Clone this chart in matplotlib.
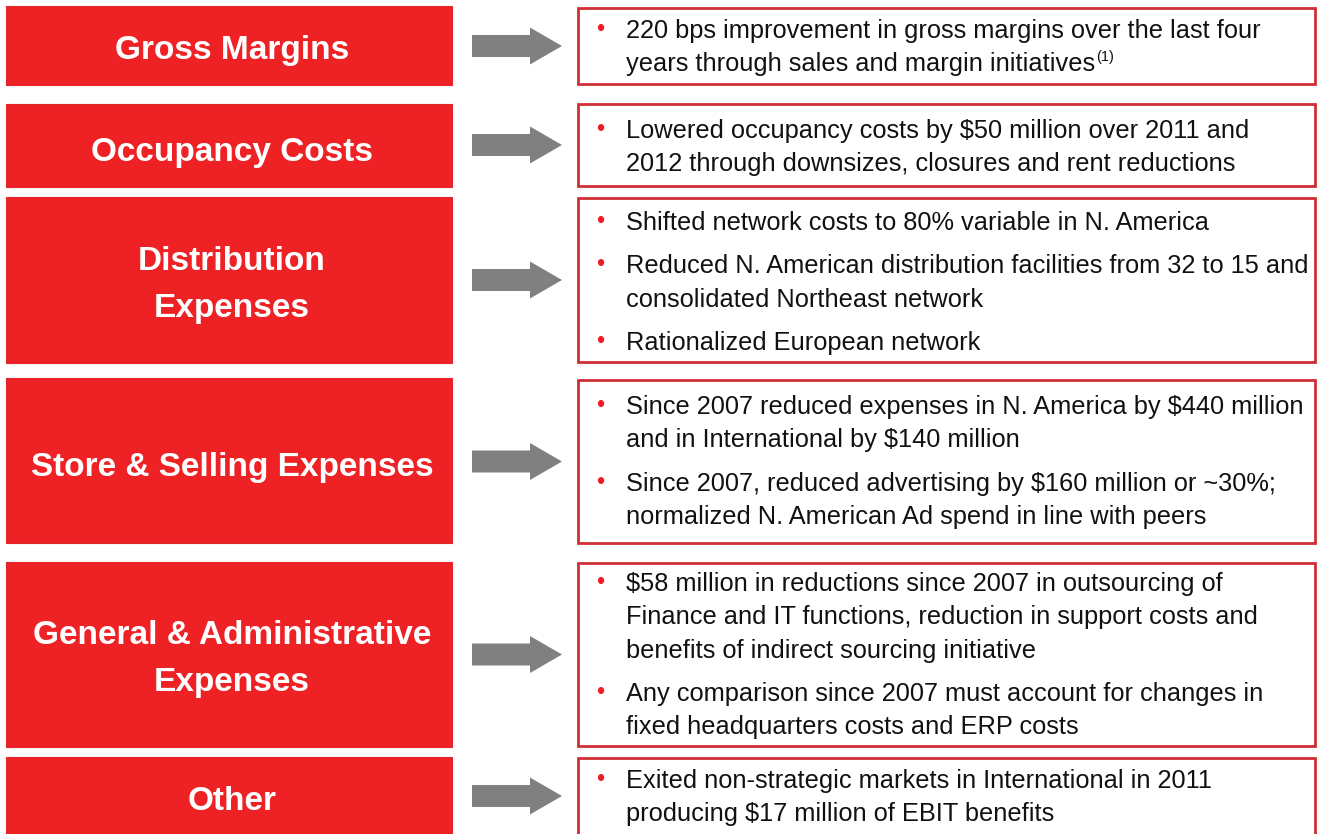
import matplotlib
matplotlib.use("Agg")
import matplotlib.pyplot as plt
from matplotlib.patches import Rectangle, FancyArrow

# ---- content ----
categories = [
    "Gross Margins",
    "Occupancy Costs",
    "Distribution\nExpenses",
    "Store & Selling Expenses",
    "General & Administrative\nExpenses",
    "Other",
]

bullets = [
    [["220 bps improvement in gross margins over the last four",
      "years through sales and margin initiatives"]],
    [["Lowered occupancy costs by $50 million over 2011 and",
      "2012 through downsizes, closures and rent reductions"]],
    [["Shifted network costs to 80% variable in N. America"],
     ["Reduced N. American distribution facilities from 32 to 15 and",
      "consolidated Northeast network"],
     ["Rationalized European network"]],
    [["Since 2007 reduced expenses in N. America by $440 million",
      "and in International by $140 million"],
     ["Since 2007, reduced advertising by $160 million or ~30%;",
      "normalized N. American Ad spend in line with peers"]],
    [["$58 million in reductions since 2007 in outsourcing of",
      "Finance and IT functions, reduction in support costs and",
      "benefits of indirect sourcing initiative"],
     ["Any comparison since 2007 must account for changes in",
      "fixed headquarters costs and ERP costs"]],
    [["Exited non-strategic markets in International in 2011",
      "producing $17 million of EBIT benefits"]],
]
footnote_mark = "(1)"

# ---- layout (pixels) ----
W, H = 1319, 834
left_rows = [(6, 85), (104, 187), (197, 363), (378, 543), (562, 747), (757, 840)]
right_rows = [(8, 84), (104, 186), (198, 362), (380, 543), (563, 746), (758, 840)]
first_baseline = [38, 138, 230, 414, 591, 788]
line_step = 33.3
bullet_gap = 10
label_centers = [50, 152, 285, 467, 659, 802]

RED = "#ee2125"
EDGE = "#cf2e36"
GRAY = "#808080"

plt.rcParams['font.family'] = ['Liberation Sans', 'DejaVu Sans']

fig = plt.figure(figsize=(W / 100, H / 100), dpi=100)
ax = fig.add_axes([0, 0, 1, 1])
ax.set_xlim(0, W)
ax.set_ylim(H, 0)
ax.axis("off")

label_size = 24
body_size = 18.3

last_t = None
for i, cat in enumerate(categories):
    y0, y1 = left_rows[i]
    ax.add_patch(Rectangle((6, y0), 446, y1 - y0, facecolor=RED,
                           edgecolor="#e0282c", lw=0.8))
    ax.text(232, label_centers[i], cat, ha="center", va="center",
            color="white", fontsize=label_size, fontweight="bold",
            linespacing=1.66)

    r0, r1 = right_rows[i]
    ax.add_patch(Rectangle((578, r0), 1315 - 578, r1 - r0, facecolor="white",
                           edgecolor=EDGE, lw=2.0))

    # arrow
    cy = (r0 + min(r1, 834)) / 2
    ax.add_patch(FancyArrow(472, cy, 90, 0, width=22, head_width=37,
                            head_length=32, length_includes_head=True,
                            facecolor=GRAY, edgecolor="none"))

    y = first_baseline[i]
    for b in bullets[i]:
        ax.text(596, y - 2, "\u2022", ha="left", va="baseline", color="#ee1c25",
                fontsize=17)
        for line in b:
            t = ax.text(626, y, line, ha="left", va="baseline", color="#111111",
                        fontsize=body_size)
            if i == 0:
                last_t, last_y = t, y
            y += line_step
        y += bullet_gap

# superscript footnote mark after the first box's last line
fig.canvas.draw()
bb = last_t.get_window_extent()
xd = ax.transData.inverted().transform((bb.x1, 0))[0]
ax.text(xd + 1, last_y - 10, footnote_mark, ha="left", va="baseline",
        color="#111111", fontsize=10.5)

fig.savefig("out.png", dpi=100)
